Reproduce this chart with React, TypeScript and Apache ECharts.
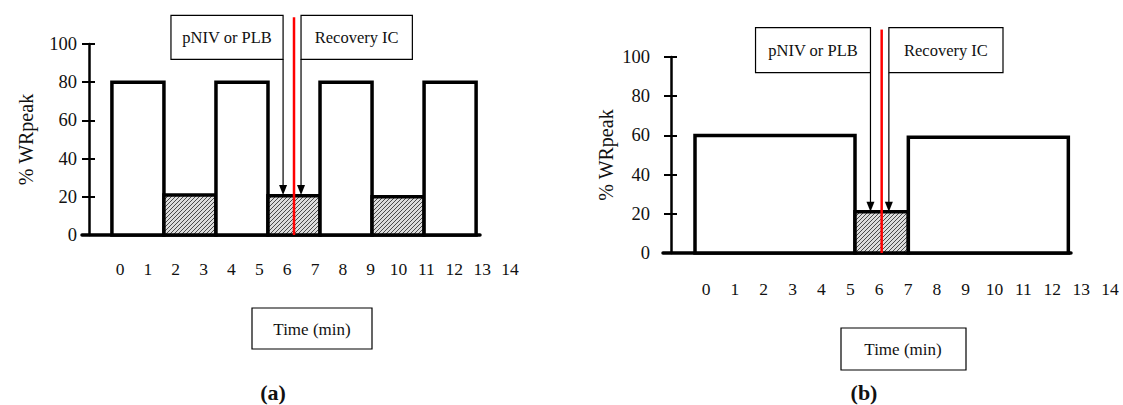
import React, { useEffect, useRef } from 'react';
import * as echarts from 'echarts';

// ---- data ----
const timeLabels = ['0', '1', '2', '3', '4', '5', '6', '7', '8', '9', '10', '11', '12', '13', '14'];
const aStart = [0, 2, 4, 6, 8, 10, 12];
const aEnd = [2, 4, 6, 8, 10, 12, 14];
const aValue = [80, 21, 80, 20.5, 80, 20, 80];
const aHatched = [false, true, false, true, false, true, false];
const bStart = [0, 6, 8];
const bEnd = [6, 8, 14];
const bValue = [60, 21, 59];
const bHatched = [false, true, false];
const markerTime = 7;
const markerTop = 114;
const boxLabels = ['pNIV or PLB', 'Recovery IC'];
const boxLeft = [2.27, 7.27];
const boxRight = [6.58, 11.55];
const boxBottom = 92;
const boxTop = 115;
const arrowAt = [6.58, 7.27];
const arrowTip = 21;

const FONT = '"Liberation Serif", "Times New Roman", serif';
const INK = '#111';

function makeHatch() {
  const c = document.createElement('canvas');
  c.width = 4;
  c.height = 4;
  const g = c.getContext('2d')!;
  g.fillStyle = '#dcdcdc';
  g.fillRect(0, 0, 4, 4);
  g.strokeStyle = '#4a4a4a';
  g.lineWidth = 1;
  g.beginPath();
  g.moveTo(0, 4); g.lineTo(4, 0);
  g.moveTo(-1, 1); g.lineTo(1, -1);
  g.moveTo(3, 5); g.lineTo(5, 3);
  g.stroke();
  return c;
}

function barSeries(xi: number, starts: number[], ends: number[], values: number[], hatched: boolean[], pattern: any) {
  return {
    type: 'custom',
    xAxisIndex: xi,
    yAxisIndex: xi === 0 ? 0 : 3,
    z: 2,
    clip: false,
    data: starts.map((s, i) => [s, ends[i], values[i]]),
    encode: { x: [0, 1], y: 2 },
    renderItem: (params: any, api: any) => {
      const i = params.dataIndex;
      const p0 = api.coord([starts[i], 0]);
      const p1 = api.coord([ends[i], values[i]]);
      return {
        type: 'rect',
        shape: { x: p0[0], y: p1[1], width: p1[0] - p0[0], height: p0[1] - p1[1] },
        style: { fill: hatched[i] ? pattern : '#fff', stroke: '#000', lineWidth: 3.5 },
      };
    },
  };
}

function boxSeries(xi: number) {
  return {
    type: 'custom',
    xAxisIndex: xi,
    yAxisIndex: xi === 0 ? 0 : 3,
    z: 3,
    clip: false,
    data: boxLeft.map((l, i) => [l, boxRight[i], boxBottom, boxTop]),
    encode: { x: [0, 1], y: [2, 3] },
    renderItem: (params: any, api: any) => {
      const i = params.dataIndex;
      const tl = api.coord([boxLeft[i], boxTop]);
      const br = api.coord([boxRight[i], boxBottom]);
      const ax = api.coord([arrowAt[i], arrowTip]);
      return {
        type: 'group',
        children: [
          { type: 'rect', shape: { x: tl[0], y: tl[1], width: br[0] - tl[0], height: br[1] - tl[1] }, style: { fill: '#fff', stroke: '#000', lineWidth: 1.2 } },
          { type: 'text', style: { text: boxLabels[i], x: (tl[0] + br[0]) / 2, y: (tl[1] + br[1]) / 2, align: 'center', verticalAlign: 'middle', fontSize: 16.5, fontFamily: FONT, fill: INK } },
          { type: 'line', shape: { x1: ax[0], y1: br[1], x2: ax[0], y2: ax[1] - 8 }, style: { stroke: '#000', lineWidth: 1.2 } },
          { type: 'polygon', shape: { points: [[ax[0] - 4, ax[1] - 10], [ax[0] + 4, ax[1] - 10], [ax[0], ax[1]]] }, style: { fill: '#000' } },
        ],
      };
    },
  };
}

function markerSeries(xi: number) {
  return {
    type: 'custom',
    xAxisIndex: xi,
    yAxisIndex: xi === 0 ? 0 : 3,
    z: 5,
    clip: false,
    data: [[markerTime, markerTop]],
    encode: { x: 0, y: 1 },
    renderItem: (params: any, api: any) => {
      const p0 = api.coord([markerTime, 0]);
      const p1 = api.coord([markerTime, markerTop]);
      return { type: 'line', shape: { x1: p0[0], y1: p0[1], x2: p1[0], y2: p1[1] }, style: { stroke: '#ff0000', lineWidth: 2.5 } };
    },
  };
}

function valueX(grid: number, min: number, max: number) {
  return {
    type: 'value', gridIndex: grid, min, max,
    axisLine: { show: true, onZero: false, lineStyle: { color: '#000', width: 3.5 } },
    axisTick: { show: false }, axisLabel: { show: false }, splitLine: { show: false },
  };
}
function labelX(grid: number) {
  return {
    type: 'category', gridIndex: grid, data: timeLabels, boundaryGap: false,
    axisLine: { show: false }, axisTick: { show: false }, splitLine: { show: false },
    axisLabel: { margin: 8, fontSize: 17.5, fontFamily: FONT, color: INK },
  };
}
function mainY(grid: number, offset: number, margin: number, nameGap: number) {
  return {
    type: 'value', gridIndex: grid, min: 0, max: 100, interval: 20, offset, position: 'left',
    name: '% WRpeak', nameLocation: 'middle', nameRotate: 90, nameGap,
    nameTextStyle: { fontSize: 20, fontFamily: FONT, color: INK },
    axisLine: { show: true, onZero: false, lineStyle: { color: '#000', width: 2.5 } },
    axisTick: { show: true, length: 7, lineStyle: { color: '#000', width: 2 } },
    axisLabel: { margin, fontSize: 18.5, fontFamily: FONT, color: INK },
    splitLine: { show: false },
  };
}
function innerY(grid: number, offset: number) {
  return {
    type: 'value', gridIndex: grid, min: 0, max: 100, interval: 20, offset, position: 'left',
    axisLine: { show: false, onZero: false }, axisLabel: { show: false }, splitLine: { show: false },
    axisTick: { show: true, inside: true, length: 6, lineStyle: { color: '#000', width: 2 } },
  };
}
function hiddenY(grid: number) {
  return { type: 'value', gridIndex: grid, show: false };
}

export default function App() {
  const ref = useRef<HTMLDivElement>(null);
  useEffect(() => {
    if (!ref.current) return;
    const chart = echarts.init(ref.current, null, { renderer: 'svg' });
    const pattern = { image: makeHatch(), repeat: 'repeat' };
    const box = (x: number, y: number, w: number, h: number) => ({
      type: 'rect', shape: { x, y, width: w, height: h }, style: { fill: '#fff', stroke: '#000', lineWidth: 1.2 },
    });
    const txt = (x: number, y: number, text: string, size: number, bold = false) => ({
      type: 'text', x, y,
      style: { text, fontSize: size, fontFamily: FONT, fontWeight: bold ? 'bold' : 'normal', fill: INK, align: 'center', verticalAlign: 'middle' },
    });
    chart.setOption({
      animation: false,
      backgroundColor: '#fff',
      grid: [
        { left: 82, top: 44, width: 398, height: 191 },
        { left: 120, top: 200, width: 390, height: 52 },
        { left: 663, top: 57, width: 408, height: 196 },
        { left: 706, top: 220, width: 404, height: 52 },
      ],
      xAxis: [valueX(0, -1.15, 14.15), labelX(1), valueX(2, -1.2, 14.1), labelX(3)],
      yAxis: [
        mainY(0, -7, 12, 53),
        innerY(0, -7),
        hiddenY(1),
        mainY(2, -8, 21, 55),
        innerY(2, -8),
        hiddenY(3),
      ],
      series: [
        barSeries(0, aStart, aEnd, aValue, aHatched, pattern),
        boxSeries(0),
        markerSeries(0),
        barSeries(2, bStart, bEnd, bValue, bHatched, pattern),
        boxSeries(2),
        markerSeries(2),
      ],
      graphic: [
        box(252, 308, 120, 41),
        txt(312, 329, 'Time (min)', 17),
        box(841, 328, 125, 42),
        txt(903, 349, 'Time (min)', 17),
        txt(273, 392, '(a)', 22, true),
        txt(864, 392, '(b)', 22, true),
      ],
    });
    return () => chart.dispose();
  }, []);
  return <div ref={ref} style={{ position: 'fixed', left: 0, top: 0, width: 1123, height: 405 }} />;
}
